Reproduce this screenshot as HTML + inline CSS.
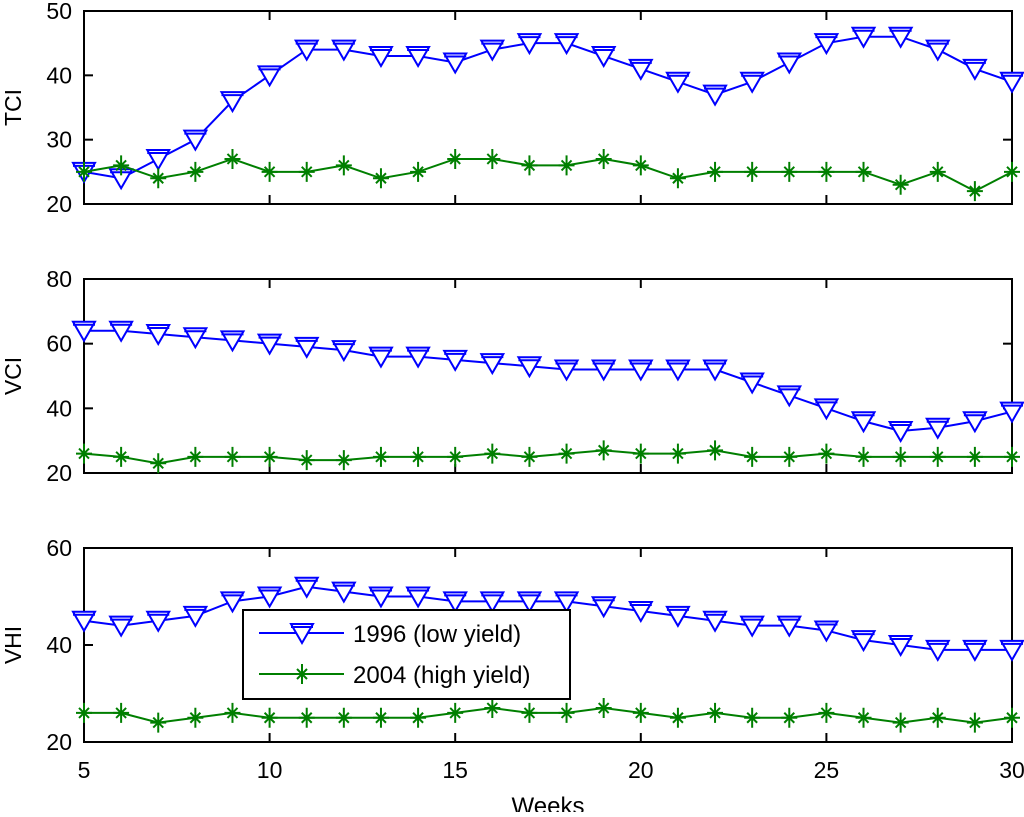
<!DOCTYPE html>
<html><head><meta charset="utf-8"><style>
body{margin:0;background:#fff;overflow:hidden}
svg text{font-family:"Liberation Sans",sans-serif;fill:#000}
</style></head><body>
<svg id="chart" width="1024" height="812" xmlns="http://www.w3.org/2000/svg"></svg>
<script>
const weeks=[5,6,7,8,9,10,11,12,13,14,15,16,17,18,19,20,21,22,23,24,25,26,27,28,29,30];
const tci1996=[25,24,27,30,36,40,44,44,43,43,42,44,45,45,43,41,39,37,39,42,45,46,46,44,41,39];
const tci2004=[25,26,24,25,27,25,25,26,24,25,27,27,26,26,27,26,24,25,25,25,25,25,23,25,22,25];
const vci1996=[64,64,63,62,61,60,59,58,56,56,55,54,53,52,52,52,52,52,48,44,40,36,33,34,36,39];
const vci2004=[26,25,23,25,25,25,24,24,25,25,25,26,25,26,27,26,26,27,25,25,26,25,25,25,25,25];
const vhi1996=[45,44,45,46,49,50,52,51,50,50,49,49,49,49,48,47,46,45,44,44,43,41,40,39,39,39];
const vhi2004=[26,26,24,25,26,25,25,25,25,25,26,27,26,26,27,26,25,26,25,25,26,25,24,25,24,25];
const xTicks=[5,10,15,20,25,30];
const tciTicks=[20,30,40,50];
const vciTicks=[20,40,60,80];
const vhiTicks=[20,40,60];

const svg=document.getElementById('chart');
const NS='http://www.w3.org/2000/svg';
function mk(tag,attrs,parent){const e=document.createElementNS(NS,tag);for(const k in attrs)e.setAttribute(k,attrs[k]);(parent||svg).appendChild(e);return e;}
const X0=84,X1=1012;
function xs(w){return X0+(w-5)/25*(X1-X0);}

function panel(name,top,bot,ymin,ymax,ticks,label,s1,s2,showX){
  const g=mk('g',{});
  
  
  const ys=v=>bot-(v-ymin)/(ymax-ymin)*(bot-top);
  const box=mk('rect',{x:X0,y:top,width:X1-X0,height:bot-top,fill:'none',stroke:'#000','stroke-width':2},g);
  
  
  xTicks.forEach(t=>{
    const x=xs(t);
    mk('line',{x1:x,x2:x,y1:bot,y2:bot-9,stroke:'#000','stroke-width':2},g);
    mk('line',{x1:x,x2:x,y1:top,y2:top+9,stroke:'#000','stroke-width':2},g);
    if(showX){const tx=mk('text',{x:x,y:bot+36,'font-size':23,'text-anchor':'middle'},g);tx.textContent=t;
      
      }
  });
  ticks.forEach(t=>{
    const y=ys(t);
    mk('line',{x1:X0,x2:X0+9,y1:y,y2:y,stroke:'#000','stroke-width':2},g);
    mk('line',{x1:X1,x2:X1-9,y1:y,y2:y,stroke:'#000','stroke-width':2},g);
    const tx=mk('text',{x:X0-12,y:y+8,'font-size':23,'text-anchor':'end'},g);tx.textContent=t;
    
    
  });
  const yl=mk('text',{x:0,y:0,'font-size':23,'text-anchor':'middle',transform:`translate(21,${(top+bot)/2}) rotate(-90)`},g);
  yl.textContent=label;
  
  
  drawSeries(g,s1,ys,'#0000ff','tri',name+'-1996-series');
  drawSeries(g,s2,ys,'#007f00','star',name+'-2004-series');
}
function triPath(x,y){return `M${x-11},${y-9} L${x+11},${y-9} L${x},${y+10} Z M${x-11},${y-6} L${x+11},${y-6}`;}
function starPath(x,y){return `M${x-8},${y} L${x+8},${y} M${x},${y-10} L${x},${y+10} M${x-5},${y-5} L${x+5},${y+5} M${x-5},${y+5} L${x+5},${y-5}`;}
function drawSeries(g,vals,ys,col,m,name){
  const pts=vals.map((v,i)=>[xs(weeks[i]),ys(v)]);
  const l=mk('polyline',{points:pts.map(p=>p.join(',')).join(' '),fill:'none',stroke:col,'stroke-width':2},g);
  
  
  pts.forEach(p=>{
    const mm=mk('path',{d:m==='tri'?triPath(p[0],p[1]):starPath(p[0],p[1]),fill:m==='tri'?'#fff':'none',stroke:col,'stroke-width':2},g);
    
    
  });
}
panel('tci',11,204,20,50,tciTicks,'TCI',tci1996,tci2004,false);
panel('vci',279,473,20,80,vciTicks,'VCI',vci1996,vci2004,false);
panel('vhi',548,742,20,60,vhiTicks,'VHI',vhi1996,vhi2004,true);

const xl=mk('text',{x:X0+(X1-X0)/2,y:814,'font-size':24,'text-anchor':'middle'});
xl.textContent='Weeks';



const lg=mk('g',{});


mk('rect',{x:243,y:610,width:327,height:89,fill:'#fff',stroke:'#000','stroke-width':2},lg);
const e1=mk('g',{},lg);


mk('line',{x1:259,x2:344,y1:633,y2:633,stroke:'#0000ff','stroke-width':2},e1);
mk('path',{d:triPath(302,633),fill:'#fff',stroke:'#0000ff','stroke-width':2},e1);
const t1=mk('text',{x:353,y:642,'font-size':24},e1);t1.textContent='1996 (low yield)';
const e2=mk('g',{},lg);


mk('line',{x1:259,x2:344,y1:674,y2:674,stroke:'#007f00','stroke-width':2},e2);
mk('path',{d:starPath(302,674),fill:'none',stroke:'#007f00','stroke-width':2},e2);
const t2=mk('text',{x:353,y:683,'font-size':24},e2);t2.textContent='2004 (high yield)';
</script>
</body></html>
